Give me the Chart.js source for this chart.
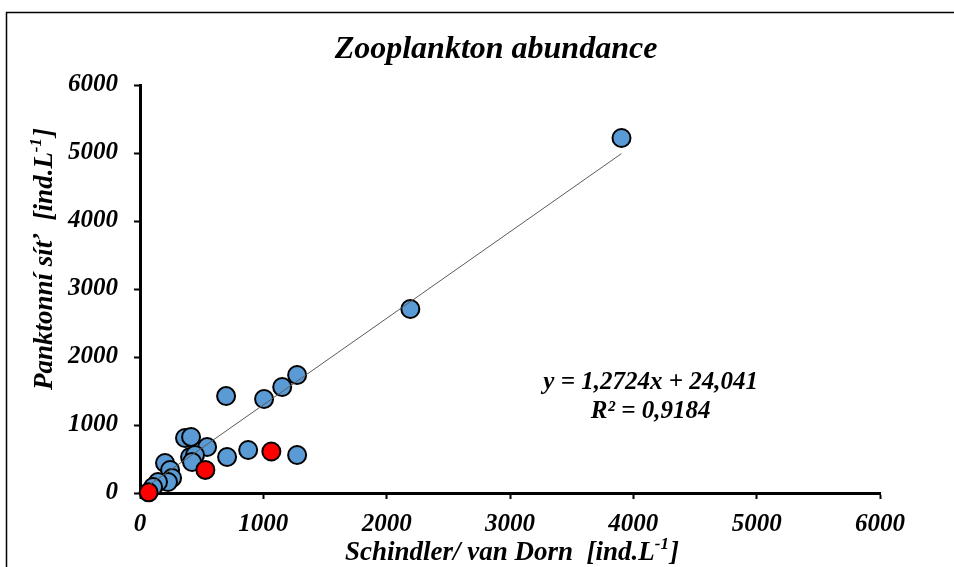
<!DOCTYPE html>
<html>
<head>
<meta charset="utf-8">
<script src="https://cdn.jsdelivr.net/npm/chart.js@4.4.1/dist/chart.umd.min.js"></script>
<style>
  html, body { margin: 0; padding: 0; background: #fff; }
  canvas { display: block; }
</style>
</head>
<body>
<canvas id="zooChart" width="954" height="567"></canvas>
<script>
// Schindler/van Dorn sampler (x) vs plankton net (y), ind.L-1
const blueX = [3904, 2192, 1274, 1153, 1006, 698, 1274, 877, 706, 544, 365, 414, 406, 446, 422, 203, 244, 260, 227, 146, 106];
const blueY = [5221, 2706, 1735, 1559, 1382, 1426, 559, 632, 529, 676, 809, 824, 529, 559, 456, 441, 338, 221, 162, 162, 88];
const redX = [1065, 530, 70];
const redY = [610, 340, 10];

// trendline as printed on the chart
const slope = 1.2724;
const intercept = 24.041;
const eqText = 'y = 1,2724x + 24,041';
const r2Text = 'R\u00b2 = 0,9184';
const eqPos = { x: 4140, y: 1620 };
const r2Pos = { x: 4140, y: 1205 };

const titleText = 'Zooplankton abundance';
// axis titles: [text, superscript, closing]
const xTitle = ['Schindler/ van Dorn  [ind.L', '-1', ']'];
const yTitle = ['Panktonní síť  [ind.L', '-1', ']'];

const serif = "'Liberation Serif', 'Times New Roman', serif";

const allX = blueX.concat(redX);
const trendX = [Math.min(...allX), Math.max(...allX)];
const toPoints = (xs, ys) => xs.map((x, i) => ({ x: x, y: ys[i] }));

// text with a raised part, centred on (0,0) of the current transform
function drawSupText(c, parts, size) {
    const big = `italic bold ${size}px ${serif}`;
    const small = `italic bold ${Math.round(size * 0.62)}px ${serif}`;
    c.font = big;
    const w0 = c.measureText(parts[0]).width;
    const w2 = c.measureText(parts[2]).width;
    c.font = small;
    const w1 = c.measureText(parts[1]).width + 1;
    let x = -(w0 + w1 + w2) / 2;
    c.textAlign = 'left';
    c.textBaseline = 'middle';
    c.font = big;
    c.fillText(parts[0], x, 0);
    x += w0;
    c.font = small;
    c.fillText(parts[1], x, -size * 0.3);
    x += w1;
    c.font = big;
    c.fillText(parts[2], x, 0);
}

// frame, titles and the equation
const extras = {
    id: 'extras',
    afterDraw(chart) {
        const c = chart.ctx;
        const area = chart.chartArea;
        c.save();
        c.strokeStyle = '#000';
        c.lineWidth = 1.5;
        c.beginPath();
        c.moveTo(954, 12.5);
        c.lineTo(6.5, 12.5);
        c.lineTo(6.5, 567);
        c.stroke();

        c.fillStyle = '#000';
        c.textAlign = 'center';
        c.textBaseline = 'middle';
        c.font = `italic bold 32px ${serif}`;
        c.fillText(titleText, 496, 50);

        c.save();
        c.translate((area.left + area.right) / 2 + 2, 553);
        drawSupText(c, xTitle, 27);
        c.restore();

        c.save();
        c.translate(45, 259);
        c.rotate(-Math.PI / 2);
        drawSupText(c, yTitle, 27);
        c.restore();

        const xs = chart.scales.x, ys = chart.scales.y;
        c.textAlign = 'center';
        c.textBaseline = 'middle';
        c.font = `italic bold 25px ${serif}`;
        c.fillText(eqText, xs.getPixelForValue(eqPos.x), ys.getPixelForValue(eqPos.y));
        c.fillText(r2Text, xs.getPixelForValue(r2Pos.x), ys.getPixelForValue(r2Pos.y));
        c.restore();
    }
};

const tickFont = { family: serif, size: 25, style: 'italic', weight: 'bold' };

new Chart(document.getElementById('zooChart'), {
    type: 'scatter',
    data: {
        datasets: [
            {
                type: 'line',
                label: 'Trend',
                data: trendX.map(x => ({ x: x, y: slope * x + intercept })),
                borderColor: '#5a5a5a',
                borderWidth: 1,
                pointRadius: 0,
                fill: false,
                order: 0,
                clip: false
            },
            {
                label: 'Red',
                data: toPoints(redX, redY),
                backgroundColor: '#ff0000',
                borderColor: '#000',
                borderWidth: 2,
                pointRadius: 9,
                order: 1,
                clip: false
            },
            {
                label: 'Blue',
                data: toPoints(blueX, blueY),
                backgroundColor: '#5b9bd5',
                borderColor: '#000',
                borderWidth: 2,
                pointRadius: 9,
                order: 2,
                clip: false
            }
        ]
    },
    options: {
        responsive: false,
        animation: false,
        layout: { padding: { left: 6, right: 74, top: 85, bottom: 0 } },
        scales: {
            x: {
                type: 'linear',
                min: 0,
                max: 6000,
                ticks: { stepSize: 1000, color: '#000', font: tickFont, padding: 11, maxRotation: 0, callback: v => String(v) },
                grid: { drawOnChartArea: false, tickLength: 6, tickWidth: 2, tickColor: '#000' },
                border: { color: '#000', width: 3 },
                afterFit(scale) { scale.height = 74; }
            },
            y: {
                type: 'linear',
                min: 0,
                max: 6000,
                ticks: { stepSize: 1000, color: '#000', font: tickFont, padding: 16, callback: v => String(v) },
                grid: { drawOnChartArea: false, tickLength: 6, tickWidth: 2, tickColor: '#000' },
                border: { color: '#000', width: 3 },
                afterFit(scale) { scale.width = 134; }
            }
        },
        plugins: {
            legend: { display: false },
            tooltip: { enabled: false },
            title: { display: false }
        }
    },
    plugins: [extras]
});
</script>
</body>
</html>
